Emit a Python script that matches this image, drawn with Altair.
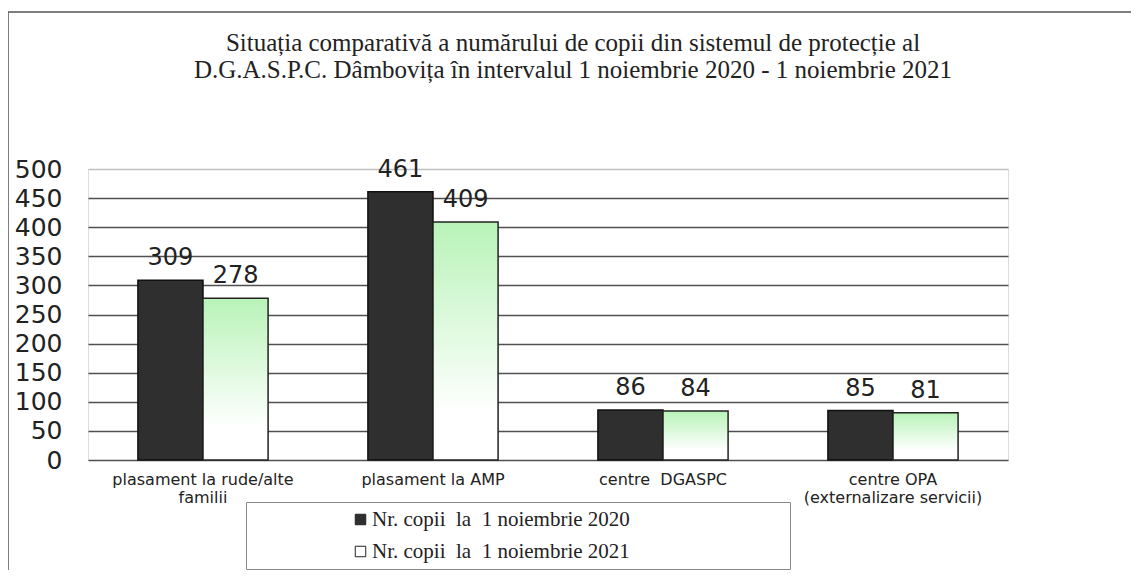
import altair as alt
import pandas as pd

categories = [
    "plasament la rude/alte|familii",
    "plasament la AMP",
    "centre  DGASPC",
    "centre OPA|(externalizare servicii)",
]
series = ["Nr. copii  la  1 noiembrie 2020", "Nr. copii  la  1 noiembrie 2021"]
values_2020 = [309, 461, 86, 85]
values_2021 = [278, 409, 84, 81]
y_ticks = [0, 50, 100, 150, 200, 250, 300, 350, 400, 450, 500]
title_lines = [
    "Situația comparativă a numărului de copii din sistemul de protecție al",
    "D.G.A.S.P.C. Dâmbovița în intervalul 1 noiembrie 2020 - 1 noiembrie 2021",
]

rows = []
for c, a, b in zip(categories, values_2020, values_2021):
    rows.append({"cat": c, "series": series[0], "value": a})
    rows.append({"cat": c, "series": series[1], "value": b})
df = pd.DataFrame(rows)

NB = "\u00a0"
ZW = "\u200b"

x_enc = alt.X(
    "cat:N",
    sort=categories,
    scale=alt.Scale(paddingInner=0.434, paddingOuter=0.217),
    axis=alt.Axis(
        title=None,
        labelExpr="split(replace(datum.label, '  ', '" + NB + " '), '|')",
        labelAngle=0,
        labelFont="DejaVu Sans",
        labelFontSize=16,
        labelColor="#222222",
        labelPadding=11,
        labelLineHeight=18,
        labelBaseline="top",
        labelLimit=400,
        ticks=False,
        domain=False,
    ),
)
xoff_enc = alt.XOffset("series:N", scale=alt.Scale(domain=series, paddingInner=0, paddingOuter=0))
y_enc = alt.Y(
    "value:Q",
    scale=alt.Scale(domain=[0, 500], nice=False),
    axis=alt.Axis(
        title=None,
        values=y_ticks,
        grid=True,
        gridColor={"condition": {"test": "datum.value === 500", "value": "#c0c0c0"}, "value": "#505050"},
        gridWidth=1.5,
        ticks=False,
        domain=False,
        labelFont="DejaVu Sans",
        labelFontSize=25,
        labelColor="#222222",
        labelPadding=26,
    ),
)

base = alt.Chart(df)

pad = NB * 29 + ZW
legend_expr = (
    "replace(replace(datum.label, '  ', '" + NB + " '), '  ', '" + NB + " ') + '" + pad + "'"
)
dark = base.transform_filter(alt.datum.series == series[0]).mark_bar(
    stroke="#111111", strokeWidth=1.5
).encode(
    x=x_enc,
    xOffset=xoff_enc,
    y=y_enc,
    color=alt.Color(
        "series:N",
        scale=alt.Scale(domain=series, range=["#2f2f2f", "#ffffff"]),
        legend=alt.Legend(
            orient="none",
            legendX=158,
            legendY=333,
            direction="vertical",
            title=None,
            labelFont="Liberation Serif",
            labelFontSize=21,
            labelColor="#222222",
            labelOffset=1,
            labelLimit=800,
            labelExpr=legend_expr,
            symbolType="square",
            symbolSize=110,
            symbolStrokeColor="#222222",
            symbolStrokeWidth=1,
            symbolOffset=97,
            rowPadding=10,
            padding=7,
            strokeColor="#888888",
            fillColor="#ffffff",
        ),
    ),
)

light = base.transform_filter(alt.datum.series == series[1]).mark_bar(
    fill=alt.Gradient(
        gradient="linear",
        stops=[
            alt.GradientStop(color="#b8f3b8", offset=0),
            alt.GradientStop(color="#ffffff", offset=0.8),
        ],
        x1=0, x2=0, y1=0, y2=1,
    ),
    stroke="#222222",
    strokeWidth=1.5,
).encode(x=x_enc, xOffset=xoff_enc, y=y_enc)

labels = base.mark_text(
    font="DejaVu Sans", fontSize=24, color="#222222", baseline="alphabetic", dy=-15
).encode(x=x_enc, xOffset=xoff_enc, y=y_enc, text="value:Q")

frame_df = pd.DataFrame({"k": [0]})
frame_top = alt.Chart(frame_df).mark_rule(color="#555555", strokeWidth=1.5).encode(
    x=alt.value(-80), x2=alt.value(1043), y=alt.value(-157)
)
frame_left = alt.Chart(frame_df).mark_rule(color="#555555", strokeWidth=1.5).encode(
    x=alt.value(-80), y=alt.value(-157), y2=alt.value(401)
)

chart = alt.layer(dark, light, labels, frame_top, frame_left).properties(
    width=920,
    height=291,
    autosize=alt.AutoSizeParams(type="none"),
    padding={"left": 80, "top": 161, "right": 123, "bottom": 110},
    title=alt.TitleParams(
        text=title_lines,
        font="Liberation Serif",
        fontSize=25,
        fontWeight="normal",
        color="#222222",
        anchor="middle",
        dx=25,
        offset=-72,
        lineHeight=27,
    ),
).configure_view(stroke="#909090", strokeWidth=1, fill="#c0c0c0").configure(background="#ffffff")

chart.save("out.html", embed_options={"renderer": "svg", "actions": False})
